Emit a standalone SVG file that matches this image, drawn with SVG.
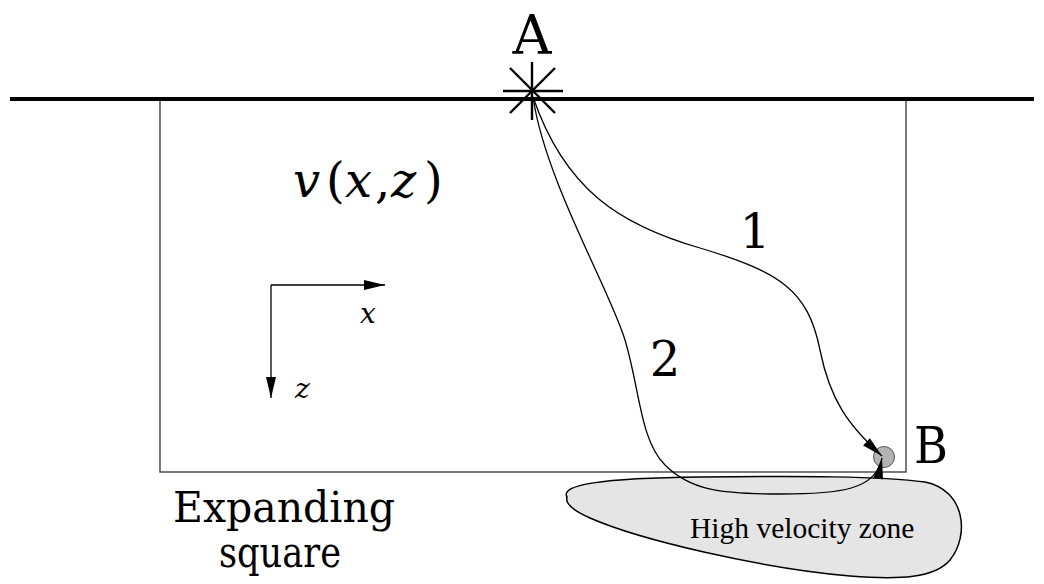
<svg xmlns="http://www.w3.org/2000/svg" width="1044" height="584" viewBox="0 0 1044 584">
<defs>
<style>
text{font-family:"Liberation Serif","Times New Roman",serif;fill:#000}
.d{font-family:"DejaVu Serif",serif}
.i{font-style:italic}
.ray{fill:none;stroke:#000;stroke-width:1.3}
.star{stroke:#000;stroke-width:2.4;fill:none}
</style>
<marker id="ah" markerUnits="userSpaceOnUse" markerWidth="24" markerHeight="12" viewBox="-22 -6 24 12" refX="0" refY="0" orient="auto">
<path d="M0,0 L-21,-5 L-21,5 Z" fill="#000"/>
</marker>
</defs>
<rect width="1044" height="584" fill="#fff"/>
<g id="zone">
<path d="M567,497 C560,485 600,478 700,477 C800,476 880,476 925,482 C965,490 970,535 950,560 C935,578 900,580 850,576 C760,568 640,540 590,518 C572,510 565,503 567,497 Z" fill="#e5e5e5" stroke="#000" stroke-width="1.5"/>
<text x="690" y="538" font-size="29.5">High velocity zone</text>
</g>
<g id="square">
<rect x="160" y="99" width="746" height="373" fill="none" stroke="#333" stroke-width="1.3"/>
<text class="d" x="173" y="522" font-size="43" textLength="222" lengthAdjust="spacingAndGlyphs">Expanding</text>
<text class="d" x="219" y="567" font-size="43" textLength="122" lengthAdjust="spacingAndGlyphs">square</text>
</g>
<g id="surface">
<line x1="10" y1="99" x2="1034" y2="99" stroke="#000" stroke-width="4"/>
</g>
<g id="source-A">
<line class="star" x1="532" y1="62" x2="532" y2="120"/>
<line class="star" x1="503" y1="91" x2="563" y2="91"/>
<line class="star" x1="510" y1="68" x2="555" y2="113"/>
<line class="star" x1="555" y1="68" x2="510" y2="113"/>
<text class="d" x="532" y="54" font-size="54" text-anchor="middle">A</text>
</g>
<g id="receiver-B">
<circle cx="884" cy="457" r="10.5" fill="#b3b3b3" stroke="#555" stroke-width="1"/>
<text class="d" x="914" y="463" font-size="50" textLength="34" lengthAdjust="spacingAndGlyphs">B</text>
</g>
<g id="velocity-label">
<text class="d" y="197" font-size="48"><tspan class="i" x="293">v</tspan><tspan x="326">(</tspan><tspan class="i" x="345">x</tspan><tspan x="375">,</tspan><tspan class="i" x="391">z</tspan><tspan x="424">)</tspan></text>
</g>
<g id="axes">
<line x1="271" y1="285" x2="385" y2="285" stroke="#000" stroke-width="1.3" marker-end="url(#ah)"/>
<line x1="271" y1="285" x2="271" y2="398" stroke="#000" stroke-width="1.3" marker-end="url(#ah)"/>
<text class="d i" x="360" y="323" font-size="28">x</text>
<text class="d i" x="295" y="398" font-size="28">z</text>
</g>
<g id="connectors">
<path class="ray" d="M533,97 C565,190 620,225 700,248 C780,272 808,290 820,350 C830,400 848,425 882,456" marker-end="url(#ah)"/>
<path class="ray" d="M533,97 C545,180 610,290 625,340 C640,390 640,440 665,465 C690,490 720,494 780,494 C840,494 876,490 882,458" marker-end="url(#ah)"/>
<text class="d" x="755" y="248" font-size="48" text-anchor="middle">1</text>
<text class="d" x="665" y="376" font-size="48" text-anchor="middle">2</text>
</g>
</svg>
